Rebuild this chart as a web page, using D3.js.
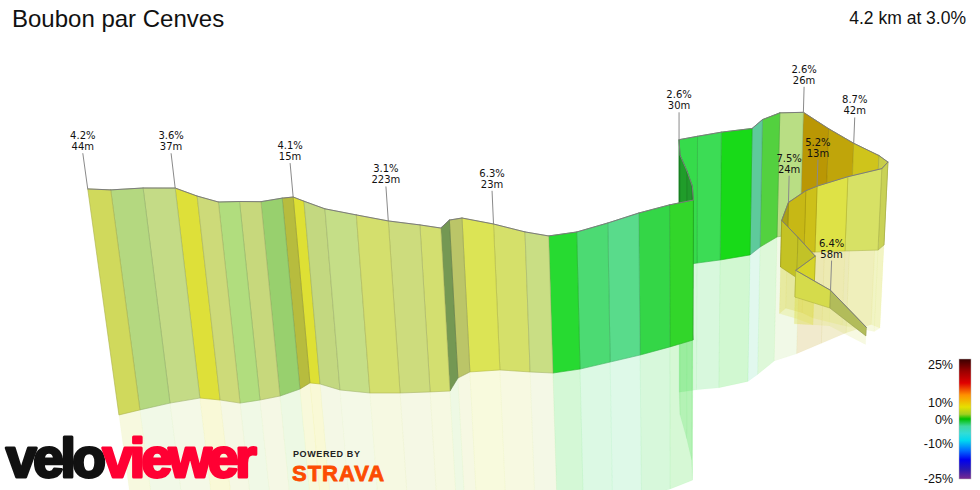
<!DOCTYPE html>
<html>
<head>
<meta charset="utf-8">
<script src="https://cdn.jsdelivr.net/npm/d3@7"></script>
<style>
  body { margin: 0; background: #fff; }
  svg { display: block; font-family: "Liberation Sans", Arial, sans-serif; }
  .lbl { font-family: "DejaVu Sans", Verdana, sans-serif; font-size: 10px; fill: #111; }
</style>
</head>
<body>
<svg id="chart"></svg>
<script>
const width = 980, height = 490;

// route in travel order: starts front right, finishes far left
const eastM  = [2713, 2605, 2474, 2560, 2500, 2440, 2480, 2560, 2609, 2746,
                2897, 2934, 2903, 2790, 2677, 2564, 2452, 2365, 2314, 2178,
                2075, 1996, 2000, 2028, 2047, 2049, 1962, 1852, 1744, 1638,
                1543, 1460, 1349, 1243, 1208, 1197, 1129, 1026, 921, 811,
                729, 691, 669, 615, 555, 494, 418, 343, 254, 171, 115];
const northM = [467, 622, 683, 720, 790, 850, 915, 935, 933, 939,
                944, 972, 1000, 1011, 1022, 1039, 1017, 961, 917, 889,
                872, 856, 750, 639, 539, 444, 406, 361, 322, 283,
                261, 267, 278, 267, 233, 161, 156, 150, 150, 167,
                200, 206, 172, 133, 111, 94, 111, 122, 94, 56, 28];
const elevM  = [244, 251, 258, 264, 269.5, 275, 281, 288, 292, 299,
                305, 307, 309, 318, 329, 341, 343, 343.5, 341, 341,
                339.5, 338.5, 337.5, 336.5, 335.5, 334.8, 335.0, 333.6, 330.5, 328.1,
                327.5, 329.6, 333.8, 338.7, 340.3, 341.3, 343.7, 346.7, 350.5, 353.0,
                355.2, 357.4, 359.4, 360.2, 362.0, 363.0, 365.4, 369.6, 371.7, 373.3, 375.9];

// climb annotations (index of route point, gradient, length)
const labelAt  = [1, 6, 8, 13, 15, 21, 32, 37, 41, 47, 50];
const labelPct = ["6.4%", "7.5%", "5.2%", "8.7%", "2.6%", "2.6%", "6.3%", "3.1%", "4.1%", "3.6%", "4.2%"];
const labelLen = ["58m", "24m", "13m", "42m", "26m", "30m", "23m", "223m", "15m", "37m", "44m"];

// gradient colours
const wallPct    = [-12, -8, -5, -2.5, -1, 0, 1, 2, 3, 4.5, 6, 7.5, 9, 11, 15, 25];
const wallColors = ["#1080ff", "#30d8e8", "#78dcd0", "#58e088", "#30dc40", "#18dc18",
                    "#9ce070", "#c4e08c", "#cedc7c", "#dce458", "#e0e02c", "#d4cc20",
                    "#c4b010", "#b89000", "#e00000", "#500000"];
const legendPct    = [25, 20, 15, 10, 5, 2, 0, -3, -6, -9, -13, -17, -21, -25];
const legendColors = ["#3a0000", "#9a0000", "#e00000", "#ff9000", "#e6e000", "#a0d020",
                      "#00c000", "#40d8a0", "#30dcd8", "#00d8f0", "#0070ff", "#0000f0",
                      "#2818b0", "#7a2a90"];
const legendTicks  = [25, 10, 0, -10, -25];

const svg = d3.select("#chart").attr("width", width).attr("height", height);

// pseudo perspective: ground plane + exaggerated height, verticals lean to a vanishing point
const xS = d3.scaleLinear().domain([0, 3000]).range([80, 980]);
const yS = d3.scaleLinear().domain([0, 1000]).range([420, 240]);
const kS = d3.scaleLinear().domain([0, 1000]).range([1, 0.72]);
const zS = d3.scaleLinear().domain([238, 376]).range([0, 228]);
const vp = [680, 4480];

function project(e, n, hPx) {
    const k = kS(n);
    const bx = vp[0] + (xS(e) - vp[0]) * k;
    const by = yS(n);
    const h = hPx * k;
    const lean = (bx - vp[0]) / (vp[1] - by);
    return [bx + h * lean, by - h];
}

const basePts = eastM.map((e, i) => project(e, northM[i], 0));
const topPts  = eastM.map((e, i) => project(e, northM[i], zS(elevM[i])));
const reflPts = eastM.map((e, i) => project(e, northM[i], -zS(elevM[i])));

const wallColor = d3.scaleLinear().domain(wallPct).range(wallColors).clamp(true);

const segs = d3.range(eastM.length - 1).map(i => {
    const de = eastM[i + 1] - eastM[i], dn = northM[i + 1] - northM[i];
    const len = Math.hypot(de, dn);
    return {
        i: i,
        grade: (elevM[i + 1] - elevM[i]) / len * 100,
        shade: 0.62 + 0.38 * Math.abs(de) / len,
        depth: (northM[i] + northM[i + 1]) / 2
    };
}).sort((a, b) => b.depth - a.depth);

function shaded(g, s) {
    const c = d3.rgb(wallColor(g));
    return d3.rgb(c.r * s, c.g * s, c.b * s);
}

const poly = pts => "M" + pts.map(p => p.join(",")).join("L") + "Z";

// reflection first
svg.append("g")
    .selectAll("path")
    .data(segs)
    .enter().append("path")
    .attr("d", d => poly([basePts[d.i], basePts[d.i + 1], reflPts[d.i + 1], reflPts[d.i]]))
    .attr("fill", d => wallColor(d.grade))
    .attr("fill-opacity", 0.2)
    .attr("stroke", d => wallColor(d.grade))
    .attr("stroke-opacity", 0.08)
    .attr("stroke-width", 0.6);

// wall, far to near
const wall = svg.append("g")
    .selectAll("g")
    .data(segs)
    .enter().append("g");

wall.append("path")
    .attr("d", d => poly([basePts[d.i], basePts[d.i + 1], topPts[d.i + 1], topPts[d.i]]))
    .attr("fill", d => shaded(d.grade, d.shade))
    .attr("stroke", d => shaded(d.grade, d.shade * 0.82))
    .attr("stroke-width", 0.6)
    .attr("stroke-linejoin", "round");

wall.append("line")
    .attr("x1", d => topPts[d.i][0]).attr("y1", d => topPts[d.i][1])
    .attr("x2", d => topPts[d.i + 1][0]).attr("y2", d => topPts[d.i + 1][1])
    .attr("stroke", "#7c7c7c")
    .attr("stroke-width", 1)
    .attr("stroke-linecap", "round");

// annotations
const labels = svg.append("g")
    .selectAll("g")
    .data(labelAt.map((idx, j) => ({ idx: idx, pct: labelPct[j], len: labelLen[j] })))
    .enter().append("g");

labels.each(function (d) {
    const g = d3.select(this);
    const t = topPts[d.idx];
    const l = project(eastM[d.idx], northM[d.idx], zS(elevM[d.idx]) + 36);
    g.append("line")
        .attr("x1", t[0]).attr("y1", t[1])
        .attr("x2", l[0]).attr("y2", l[1])
        .attr("stroke", "#8a8a8a")
        .attr("stroke-width", 1);
    g.append("text").attr("class", "lbl")
        .attr("x", l[0]).attr("y", l[1] - 14)
        .attr("text-anchor", "middle").text(d.pct);
    g.append("text").attr("class", "lbl")
        .attr("x", l[0]).attr("y", l[1] - 3)
        .attr("text-anchor", "middle").text(d.len);
});

// titles
svg.append("text")
    .attr("x", 12).attr("y", 27)
    .attr("font-size", 24).attr("fill", "#111")
    .text("Boubon par Cenves");

svg.append("text")
    .attr("x", 966).attr("y", 24)
    .attr("text-anchor", "end")
    .attr("font-size", 17.5).attr("fill", "#111")
    .text("4.2 km at 3.0%");

// colour legend
const defs = svg.append("defs");
const grad = defs.append("linearGradient")
    .attr("id", "gradeGrad")
    .attr("x1", 0).attr("y1", 0).attr("x2", 0).attr("y2", 1);
grad.selectAll("stop")
    .data(legendPct)
    .enter().append("stop")
    .attr("offset", d => (25 - d) / 50)
    .attr("stop-color", (d, i) => legendColors[i]);

svg.append("rect")
    .attr("x", 959).attr("y", 359)
    .attr("width", 12).attr("height", 120)
    .attr("fill", "url(#gradeGrad)")
    .attr("stroke", "#bbb").attr("stroke-width", 0.5);

const tickY = d3.scaleLinear().domain([-25, -10, 0, 10, 25]).range([479, 444, 420, 403, 365]);
svg.append("g")
    .selectAll("text")
    .data(legendTicks)
    .enter().append("text")
    .attr("x", 953)
    .attr("y", d => tickY(d))
    .attr("dy", "0.35em")
    .attr("text-anchor", "end")
    .attr("font-size", 12.5)
    .attr("fill", "#111")
    .text(d => d + "%");

// branding
const logo = svg.append("text")
    .attr("x", 6).attr("y", 477)
    .attr("font-size", 55)
    .attr("font-weight", "bold")
    .attr("letter-spacing", -3.4)
    .attr("stroke-linejoin", "round");
logo.append("tspan").attr("fill", "#111").attr("stroke", "#111").attr("stroke-width", 3).text("velo");
logo.append("tspan").attr("fill", "#ff0033").attr("stroke", "#ff0033").attr("stroke-width", 3).text("viewer");

svg.append("text")
    .attr("x", 293).attr("y", 457)
    .attr("font-size", 9).attr("font-weight", "bold")
    .attr("letter-spacing", 0.6).attr("fill", "#222")
    .text("POWERED BY");

svg.append("text")
    .attr("x", 292).attr("y", 481)
    .attr("font-size", 22).attr("font-weight", "bold")
    .attr("letter-spacing", 1)
    .attr("fill", "#fc4c02").attr("stroke", "#fc4c02").attr("stroke-width", 0.8)
    .text("STRAVA");
</script>
</body>
</html>
